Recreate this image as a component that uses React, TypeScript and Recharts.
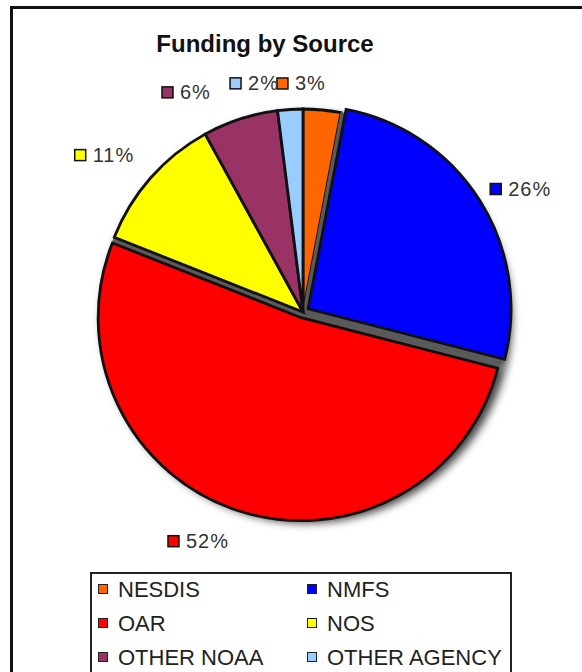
import React from 'react';
import { PieChart, Pie, Cell, Legend } from 'recharts';

const SOURCES = ['NESDIS', 'NMFS', 'OAR', 'NOS', 'OTHER NOAA', 'OTHER AGENCY'];
const SHARES = [3, 26, 52, 11, 6, 2];
const COLORS = ['#FF6600', '#0000FF', '#FF0000', '#FFFF00', '#993366', '#99CCFF'];
const EXPLODED = ['NMFS', 'OAR'];
const TITLE = 'Funding by Source';

const data = SOURCES.map((name, i) => ({ name, value: SHARES[i] }));

const RAD = Math.PI / 180;
const CX = 303;
const CY = 312;
const R = 203;
const START = 90;
const END = -270;
const EXPLODE_DIST = 6;
const TOTAL = SHARES.reduce((a, b) => a + b, 0);

function midAngleOf(i: number) {
  const before = SHARES.slice(0, i).reduce((a, b) => a + b, 0);
  return START - ((before + SHARES[i] / 2) / TOTAL) * 360;
}

// label placement tweaks (angle delta in degrees, extra radius in px)
const LABEL_TWEAK: Record<string, [number, number]> = {
  NESDIS: [11.9, 27],
  NMFS: [0.9, 21],
  OAR: [-12.5, 63],
  NOS: [6.9, 74],
  'OTHER NOAA': [14.7, 58],
  'OTHER AGENCY': [14.1, 37],
};

const FONT = '"Liberation Sans", Arial, sans-serif';

const renderLabel = (p: any) => {
  const name = SOURCES[p.index];
  const tw = LABEL_TWEAK[name] || [0, 40];
  const a = (p.midAngle + tw[0]) * RAD;
  const r = p.outerRadius + tw[1];
  const x = p.cx + r * Math.cos(a);
  const y = p.cy - r * Math.sin(a);
  return (
    <g key={`lbl-${p.index}`}>
      <rect x={x} y={y - 5.5} width={11} height={11} fill={COLORS[p.index]} stroke="#111" strokeWidth={1.5} />
      <text x={x + 18} y={y + 7} fontSize={20} letterSpacing={1} fill="#333" fontFamily={FONT}>
        {`${SHARES[p.index]}%`}
      </text>
    </g>
  );
};

const renderLegend = () => {
  const rowCenters = [15, 49, 83];
  const colSquare = [6, 215];
  const colText = [26, 235];
  return (
    <div
      style={{
        position: 'relative',
        width: 422,
        height: 120,
        border: '2px solid #222',
        boxSizing: 'border-box',
        background: '#fff',
        fontFamily: FONT,
      }}
    >
      {SOURCES.map((name, i) => {
        const row = Math.floor(i / 2);
        const col = i % 2;
        const cy = rowCenters[row];
        return (
          <React.Fragment key={name}>
            <div
              style={{
                position: 'absolute',
                left: colSquare[col],
                top: cy - 5,
                width: 10,
                height: 10,
                background: COLORS[i],
                border: '1.5px solid #222',
                boxSizing: 'border-box',
              }}
            />
            <div
              style={{
                position: 'absolute',
                left: colText[col],
                top: cy - 10,
                fontSize: 22,
                lineHeight: '22px',
                color: '#222',
                whiteSpace: 'nowrap',
              }}
            >
              {name}
            </div>
          </React.Fragment>
        );
      })}
    </div>
  );
};

export default function App() {
  return (
    <div
      style={{
        position: 'absolute',
        left: 0,
        top: 0,
        width: 582,
        height: 672,
        overflow: 'hidden',
        background: '#fff',
        fontFamily: FONT,
      }}
    >
      <svg width={0} height={0} style={{ position: 'absolute' }}>
        <defs>
          <filter id="pieShadow" x="-30%" y="-30%" width="160%" height="160%">
            <feGaussianBlur stdDeviation="4.5" />
          </filter>
        </defs>
      </svg>
      <div
        style={{
          position: 'absolute',
          left: 10,
          top: 6,
          width: 700,
          height: 800,
          borderLeft: '3px solid #111',
          borderTop: '3px solid #111',
        }}
      />
      <svg width={582} height={80} style={{ position: 'absolute', left: 0, top: 0 }}>
        <text x={265} y={52} textAnchor="middle" fontSize={24} fontWeight="bold" fill="#111" fontFamily={FONT}>
          {TITLE}
        </text>
      </svg>
      <div style={{ position: 'absolute', left: 0, top: 0 }}>
        <PieChart width={582} height={672} margin={{ top: 0, right: 0, bottom: 0, left: 0 }}>
          {/* soft drop shadow */}
          <Pie
            data={data}
            dataKey="value"
            nameKey="name"
            cx={CX + 4}
            cy={CY + 6}
            outerRadius={R + 2}
            startAngle={START}
            endAngle={END}
            stroke="none"
            isAnimationActive={false}
            legendType="none"
          >
            {data.map((d) => (
              <Cell key={`sh-${d.name}`} fill="#000" fillOpacity={0.75} stroke="none" filter="url(#pieShadow)" />
            ))}
          </Pie>
          {/* base pie: non-exploded slices, grey under exploded ones */}
          <Pie
            data={data}
            dataKey="value"
            nameKey="name"
            cx={CX}
            cy={CY}
            outerRadius={R}
            startAngle={START}
            endAngle={END}
            isAnimationActive={false}
            label={renderLabel}
            labelLine={false}
          >
            {data.map((d, i) => {
              const exploded = EXPLODED.includes(d.name);
              return (
                <Cell
                  key={`b-${d.name}`}
                  fill={exploded ? '#5a5a5a' : COLORS[i]}
                  stroke={exploded ? '#5a5a5a' : '#111'}
                  strokeWidth={exploded ? 1 : 2.8}
                />
              );
            })}
          </Pie>
          {EXPLODED.map((ename) => {
            const idx = SOURCES.indexOf(ename);
            const mid = midAngleOf(idx) * RAD;
            const dx = EXPLODE_DIST * Math.cos(mid);
            const dy = -EXPLODE_DIST * Math.sin(mid);
            return (
              <Pie
                key={`ex-${ename}`}
                data={data}
                dataKey="value"
                nameKey="name"
                cx={CX + dx}
                cy={CY + dy}
                outerRadius={R}
                startAngle={START}
                endAngle={END}
                isAnimationActive={false}
                legendType="none"
              >
                {data.map((d, i) => (
                  <Cell
                    key={`e-${ename}-${d.name}`}
                    fill={d.name === ename ? COLORS[i] : 'none'}
                    stroke={d.name === ename ? '#111' : 'none'}
                    strokeWidth={2.8}
                  />
                ))}
              </Pie>
            );
          })}
          <Legend
            verticalAlign="bottom"
            content={renderLegend}
            wrapperStyle={{ left: 90, top: 572, bottom: 'auto', width: 422 }}
          />
        </PieChart>
      </div>
    </div>
  );
}
